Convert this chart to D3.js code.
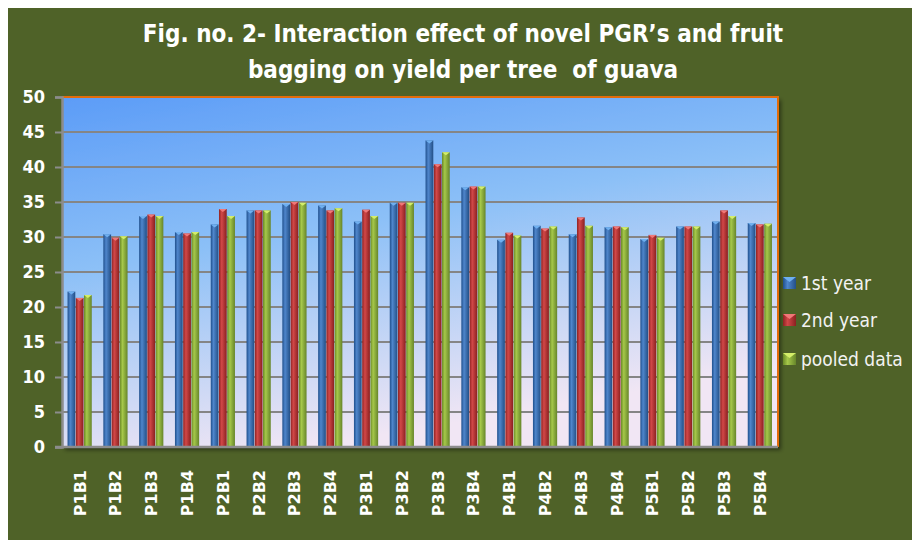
<!DOCTYPE html>
<html>
<head>
  <meta charset="utf-8">
  <style type="text/css">
    body { margin: 0; background: #ffffff; }
    text { font-family: "Liberation Sans Narrow", "DejaVu Sans Condensed", "Liberation Sans", sans-serif; white-space: pre; }
  </style>
  <script src="https://d3js.org/d3.v7.min.js"></script>
</head>
<body>
  <div id="chart"></div>
  <script type="text/javascript">
    // data
    var treatments = ["P1B1", "P1B2", "P1B3", "P1B4", "P2B1", "P2B2", "P2B3", "P2B4", "P3B1", "P3B2",
                      "P3B3", "P3B4", "P4B1", "P4B2", "P4B3", "P4B4", "P5B1", "P5B2", "P5B3", "P5B4"];
    var seriesNames = ["1st year", "2nd year", "pooled data"];
    var firstYear  = [22.2, 30.4, 33.0, 30.7, 31.8, 33.8, 34.7, 34.5, 32.2, 34.9,
                      43.8, 37.1, 29.6, 31.6, 30.4, 31.4, 29.7, 31.5, 32.2, 32.0];
    var secondYear = [21.3, 29.9, 33.2, 30.5, 34.0, 33.8, 35.0, 33.8, 33.9, 34.9,
                      40.4, 37.2, 30.6, 31.2, 32.8, 31.5, 30.3, 31.5, 33.8, 31.8];
    var pooled     = [21.7, 30.1, 33.0, 30.7, 33.0, 33.8, 34.9, 34.1, 33.0, 34.9,
                      42.1, 37.2, 30.2, 31.5, 31.6, 31.4, 29.9, 31.5, 33.0, 31.9];
    var yTicks = [0, 5, 10, 15, 20, 25, 30, 35, 40, 45, 50];

    var W = 912, H = 540;
    var plot = {left: 62, top: 97, right: 778, bottom: 447};

    var svg = d3.select("#chart").append("svg")
      .attr("width", W).attr("height", H);

    var defs = svg.append("defs");

    // plot area background gradient
    var bg = defs.append("linearGradient").attr("id", "plotbg")
      .attr("x1", "0").attr("y1", "0").attr("x2", "0.35").attr("y2", "1");
    bg.append("stop").attr("offset", "0%").attr("stop-color", "#5c9cf7");
    bg.append("stop").attr("offset", "45%").attr("stop-color", "#8cc0f7");
    bg.append("stop").attr("offset", "100%").attr("stop-color", "#f1e6f4");

    // cylinder-ish gradients for bars
    var barColors = [
      ["#1f4f8c", "#4f86cc", "#234f86"],
      ["#8e2222", "#d24848", "#8a2020"],
      ["#6a8a26", "#a6c84a", "#66852a"]
    ];
    barColors.forEach(function(c, i) {
      var g = defs.append("linearGradient").attr("id", "bar" + i)
        .attr("x1", "0").attr("y1", "0").attr("x2", "1").attr("y2", "0");
      g.append("stop").attr("offset", "0%").attr("stop-color", c[0]);
      g.append("stop").attr("offset", "35%").attr("stop-color", c[1]);
      g.append("stop").attr("offset", "100%").attr("stop-color", c[2]);
    });
    var topColors = ["#6fb0f0", "#f07878", "#d4ee6a"];

    var shadow = defs.append("filter").attr("id", "shadow")
      .attr("x", "-5%").attr("y", "-5%").attr("width", "115%").attr("height", "115%");
    shadow.append("feDropShadow").attr("dx", 3).attr("dy", 3).attr("stdDeviation", 2)
      .attr("flood-color", "#000").attr("flood-opacity", 0.45);

    // green background
    svg.append("rect").attr("x", 8).attr("y", 8)
      .attr("width", W - 8).attr("height", H - 8)
      .attr("fill", "#4f6228");

    // title
    var title = svg.append("text")
      .attr("x", 463).attr("y", 42)
      .attr("text-anchor", "middle")
      .attr("fill", "#ffffff")
      .style("font-size", "24px").style("font-weight", "bold");
    title.append("tspan").attr("x", 463).attr("y", 42)
      .text("Fig. no. 2- Interaction effect of novel PGR\u2019s and fruit");
    title.append("tspan").attr("x", 463).attr("y", 78)
      .text("bagging on yield per tree  of guava");

    var x0 = d3.scaleBand().domain(treatments)
      .range([plot.left, plot.right]).paddingInner(0.31).paddingOuter(0.155);
    var x1 = d3.scaleBand().domain(seriesNames).range([0, x0.bandwidth()]);
    var y = d3.scaleLinear().domain([0, 50]).range([plot.bottom, plot.top]);

    // plot area
    svg.append("rect")
      .attr("x", plot.left).attr("y", plot.top)
      .attr("width", plot.right - plot.left).attr("height", plot.bottom - plot.top)
      .attr("fill", "url(#plotbg)")
      .attr("filter", "url(#shadow)");

    // gridlines
    svg.append("g").selectAll("line").data(yTicks.filter(function(d) { return d > 0 && d < 50; }))
      .join("line")
      .attr("x1", plot.left).attr("x2", plot.right)
      .attr("y1", function(d) { return y(d); }).attr("y2", function(d) { return y(d); })
      .attr("stroke", "#858585").attr("stroke-width", 2);

    // orange border top & right
    svg.append("path")
      .attr("d", "M" + plot.left + "," + plot.top + "H" + plot.right + "V" + plot.bottom)
      .attr("fill", "none").attr("stroke", "#e36c0a").attr("stroke-width", 2);

    // bars
    var seriesData = [firstYear, secondYear, pooled];
    var groups = svg.append("g").selectAll("g").data(seriesData).join("g");
    groups.each(function(vals, si) {
      var g = d3.select(this);
      var name = seriesNames[si];
      g.selectAll("rect.bar").data(vals).join("rect")
        .attr("class", "bar")
        .attr("x", function(d, i) { return x0(treatments[i]) + x1(name); })
        .attr("y", function(d) { return y(d); })
        .attr("width", x1.bandwidth() - 0.5)
        .attr("height", function(d) { return y(0) - y(d); })
        .attr("fill", "url(#bar" + si + ")");
      // bevelled tops
      g.selectAll("path.cap").data(vals).join("path")
        .attr("class", "cap")
        .attr("d", function(d, i) {
          var bx = x0(treatments[i]) + x1(name), bw = x1.bandwidth() - 0.5, by = y(d);
          return "M" + bx + "," + by + "h" + bw + "l" + (-bw / 2) + "," + 3 + "z";
        })
        .attr("fill", topColors[si]);
    });

    // axes
    var yAxis = d3.axisLeft(y).tickValues(yTicks).tickSize(7).tickPadding(10);
    var ya = svg.append("g").attr("transform", "translate(" + plot.left + ",0)").call(yAxis);
    ya.select(".domain").attr("stroke", "#8c8c8c").attr("stroke-width", 2.5);
    ya.selectAll(".tick line").attr("stroke", "#8c8c8c").attr("stroke-width", 2);
    ya.selectAll(".tick text")
      .attr("fill", "#ffffff")
      .style("font-size", "18px").style("font-weight", "bold")
      .style("font-family", "'Liberation Sans Narrow', 'DejaVu Sans Condensed', sans-serif");

    var xAxis = d3.axisBottom(x0).tickSize(0).tickPadding(0);
    var xa = svg.append("g").attr("transform", "translate(0," + plot.bottom + ")").call(xAxis);
    xa.select(".domain").attr("d", "M" + (plot.left - 7) + ",0H" + plot.right)
      .attr("stroke", "#8c8c8c").attr("stroke-width", 2.5);
    xa.selectAll(".tick text")
      .attr("transform", "rotate(-90)")
      .attr("x", -23).attr("y", 0).attr("dy", "0.35em")
      .attr("text-anchor", "end")
      .attr("fill", "#ffffff")
      .style("font-size", "16px").style("font-weight", "bold")
      .style("font-family", "'DejaVu Sans', sans-serif");

    // legend
    var legendY = [283, 320, 359];
    var legend = svg.append("g").selectAll("g").data(seriesNames).join("g")
      .attr("transform", function(d, i) { return "translate(783," + legendY[i] + ")"; });
    legend.append("rect")
      .attr("x", 0).attr("y", -6).attr("width", 13).attr("height", 12)
      .attr("fill", function(d, i) { return "url(#bar" + i + ")"; });
    legend.append("path")
      .attr("d", "M0,-6h13l-6.5,5z")
      .attr("fill", function(d, i) { return topColors[i]; });
    legend.append("text")
      .attr("x", 18).attr("y", 0).attr("dy", "0.35em")
      .attr("fill", "#f2f2f2")
      .style("font-size", "19px")
      .style("font-family", "'Liberation Sans Narrow', 'DejaVu Sans Condensed', sans-serif")
      .text(function(d) { return d; });
  </script>
</body>
</html>
